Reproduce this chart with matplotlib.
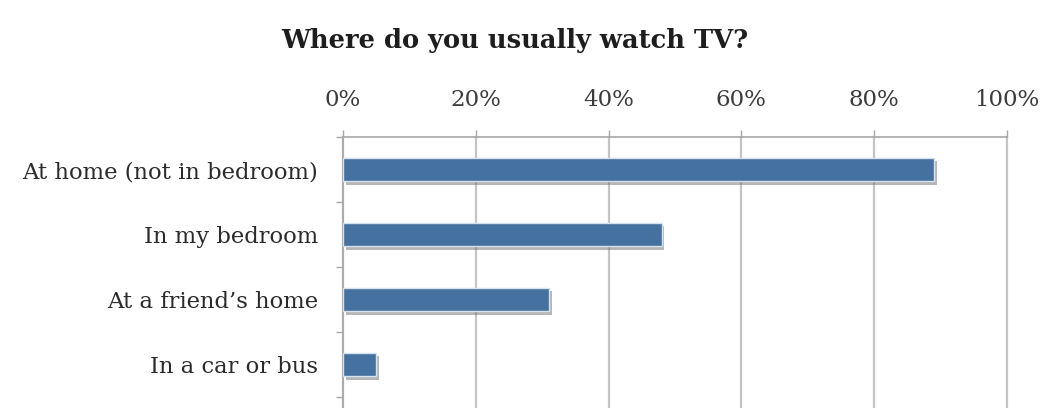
import numpy as np
import matplotlib.pyplot as plt
import matplotlib.patheffects as pe
from matplotlib.ticker import FuncFormatter

# Survey answers (share of respondents, %)
places = ['At home (not in bedroom)', 'In my bedroom', "At a friend\u2019s home", 'In a car or bus']
shares = [89, 48, 31, 5]
xticks = [0, 20, 40, 60, 80, 100]

plt.rcParams['font.family'] = ['DejaVu Serif']

fig = plt.figure(figsize=(10.45, 4.08), dpi=100)
ax = fig.add_axes([0.3282, 0.0, 0.6354, 0.6642])

bar_color = '#44719f'
y = np.arange(len(places))
bars = ax.barh(y, shares, height=0.355, color=bar_color, edgecolor='#d6e1ee',
               linewidth=1.0, zorder=3)
for b in bars:
    b.set_path_effects([pe.SimplePatchShadow(offset=(2.0, -2.5), shadow_rgbFace='#6e6e6e', alpha=0.5),
                        pe.Normal()])

# axis setup: labels on top, categories top-to-bottom
ax.set_xlim(0, 100)
ax.set_ylim(-0.5 + 271 / 65, -0.5)
ax.xaxis.tick_top()
ax.set_xticks(xticks)
ax.xaxis.set_major_formatter(FuncFormatter(lambda v, _: f'{v:.0f}%'))
ax.tick_params(axis='x', which='major', length=5, width=1.0, color='#a8a8a8',
               labelsize=16.5, labelcolor='#3c3c3c', pad=14)

ax.set_yticks(y)
ax.set_yticklabels(places)
ax.set_yticks(np.arange(-0.5, len(places) + 0.5, 1), minor=True)
ax.tick_params(axis='y', which='major', length=0, labelsize=16.3, labelcolor='#2a2a2a', pad=18)
ax.tick_params(axis='y', which='minor', length=5, width=1.0, color='#a8a8a8')

ax.grid(axis='x', color='#c4c4c4', linewidth=1.6, zorder=0)
for gl in ax.xaxis.get_gridlines():
    gl.set_clip_on(False)
ax.set_axisbelow(True)
for side in ['right', 'bottom']:
    ax.spines[side].set_visible(False)
for side in ['left', 'top']:
    ax.spines[side].set_color('#a8a8a8')
    ax.spines[side].set_linewidth(1.2)

fig.text(0.493, 0.90, 'Where do you usually watch TV?', ha='center', va='center',
         fontsize=18.5, fontweight='bold', color='#1e1e1e')

fig.savefig('out.png', dpi=100, facecolor='white')
